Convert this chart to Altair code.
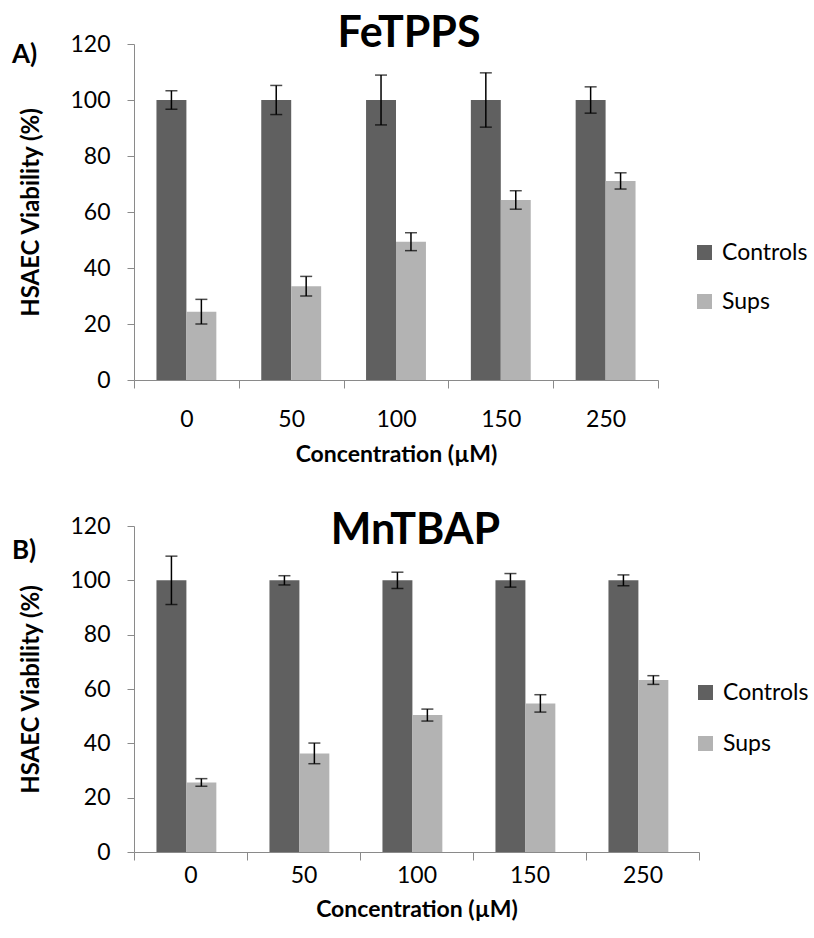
import altair as alt
import pandas as pd

concs = ["0", "50", "100", "150", "250"]
series = ["Controls", "Sups"]

fe_controls = [100, 100, 100, 100, 100]
fe_controls_err = [3.3, 5.2, 8.9, 9.7, 4.7]
fe_sups = [24.4, 33.5, 49.4, 64.3, 71.1]
fe_sups_err = [4.4, 3.5, 3.2, 3.3, 2.9]

mn_controls = [100, 100, 100, 100, 100]
mn_controls_err = [8.9, 1.7, 3.0, 2.5, 2.0]
mn_sups = [25.6, 36.3, 50.4, 54.7, 63.3]
mn_sups_err = [1.4, 3.8, 2.2, 3.2, 1.6]

y_ticks = [0, 20, 40, 60, 80, 100, 120]
colors = ["#606060", "#b3b3b3"]
FONT = "Lato"
AXIS_GRAY = "#8a8a8a"


def make_df(ctrl, ctrl_err, sups, sups_err):
    rows = []
    for c, v, e in zip(concs, ctrl, ctrl_err):
        rows.append({"conc": c, "series": "Controls", "value": v, "lo": v - e, "hi": v + e})
    for c, v, e in zip(concs, sups, sups_err):
        rows.append({"conc": c, "series": "Sups", "value": v, "lo": v - e, "hi": v + e})
    return pd.DataFrame(rows)


def panel(df, title, letter, w, h, title_dx, title_y, letter_y, leg_x, leg_y, row_pad, lab_pad, title_pad):
    base = alt.Chart(df)
    x = alt.X("conc:N", sort=concs,
              scale=alt.Scale(paddingInner=0, paddingOuter=0),
              axis=alt.Axis(title="Concentration (µM)", labelAngle=0, tickBand="extent", grid=False,
                            labelFontSize=23, labelPadding=lab_pad, tickSize=8,
                            titleFontSize=23, titleFontWeight="bold", titlePadding=title_pad,
                            domainColor=AXIS_GRAY, tickColor=AXIS_GRAY, labelColor="black",
                            titleColor="black", labelFont=FONT, titleFont=FONT))
    xo = alt.XOffset("series:N", sort=series, scale=alt.Scale(paddingInner=0, paddingOuter=0.75))
    y = alt.Y("value:Q", scale=alt.Scale(domain=[0, 120], nice=False),
              axis=alt.Axis(title="HSAEC Viability (%)", values=y_ticks, grid=False,
                            labelFontSize=23, labelPadding=17, tickSize=7,
                            titleFontSize=24, titleFontWeight="bold", titlePadding=26,
                            domainColor=AXIS_GRAY, tickColor=AXIS_GRAY, labelColor="black",
                            titleColor="black", labelFont=FONT, titleFont=FONT))
    bars = base.mark_bar().encode(
        x=x, xOffset=xo, y=y,
        color=alt.Color("series:N", sort=series,
                        scale=alt.Scale(domain=series, range=colors),
                        legend=alt.Legend(title=None, orient="none", legendX=leg_x, legendY=leg_y,
                                          labelFontSize=23, labelFont=FONT, labelColor="black",
                                          symbolType="square", symbolSize=225, symbolStrokeWidth=0,
                                          labelOffset=6, rowPadding=row_pad, padding=0)),
    )
    rule = base.mark_rule(color="black", strokeWidth=1.5).encode(
        x=alt.X("conc:N", sort=concs), xOffset=xo,
        y=alt.Y("lo:Q"), y2="hi:Q")
    cap_lo = base.mark_tick(color="black", orient="horizontal", size=12, thickness=1.5).encode(
        x=alt.X("conc:N", sort=concs), xOffset=xo, y=alt.Y("lo:Q"))
    cap_hi = base.mark_tick(color="black", orient="horizontal", size=12, thickness=1.5).encode(
        x=alt.X("conc:N", sort=concs), xOffset=xo, y=alt.Y("hi:Q"))
    lab = pd.DataFrame({"t": [title], "l": [letter]})
    ttl = alt.Chart(lab).mark_text(font=FONT, fontSize=43, fontWeight="bold", color="black",
                                   align="center", baseline="alphabetic").encode(
        x=alt.value(w / 2 + title_dx), y=alt.value(title_y), text="t:N")
    let = alt.Chart(lab).mark_text(font=FONT, fontSize=26, fontWeight="bold", color="black",
                                   align="left", baseline="alphabetic").encode(
        x=alt.value(-122), y=alt.value(letter_y), text="l:N")
    return alt.layer(bars, rule, cap_lo, cap_hi, ttl, let).properties(width=w, height=h)


top = panel(make_df(fe_controls, fe_controls_err, fe_sups, fe_sups_err),
            "FeTPPS", "A)", 524, 336, 13, 3, 19, 559, 197, 25, 20, 12)
bottom = panel(make_df(mn_controls, mn_controls_err, mn_sups, mn_sups_err),
               "MnTBAP", "B)", 565, 326, -1, 18, 33, 560, 155, 27, 4, 11)

chart = alt.vconcat(top, bottom, spacing=44).resolve_scale(color="independent").resolve_legend(
    color="independent").properties(padding={"left": 12, "top": 13, "right": 0, "bottom": 0}).configure(
    font=FONT).configure_view(stroke=None, strokeWidth=0)

chart.save("out.html", embed_options={"renderer": "svg", "actions": False})
